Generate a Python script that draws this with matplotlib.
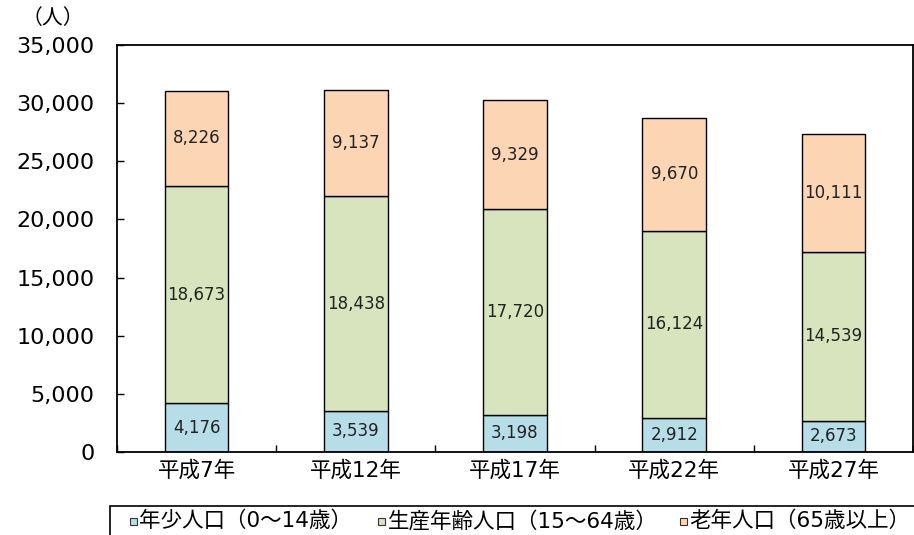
import matplotlib
matplotlib.use("Agg")
import matplotlib.pyplot as plt
from matplotlib.patches import Rectangle
from matplotlib.ticker import FuncFormatter, MultipleLocator
import numpy as np

plt.rcParams['font.family'] = ['DejaVu Sans', 'Noto Sans CJK JP']

categories = ["平成7年", "平成12年", "平成17年", "平成22年", "平成27年"]
young = [4176, 3539, 3198, 2912, 2673]
working = [18673, 18438, 17720, 16124, 14539]
old = [8226, 9137, 9329, 9670, 10111]
series_names = ["年少人口（0〜14歳）", "生産年齢人口（15〜64歳）", "老年人口（65歳以上）"]
colors = ["#B7DEE8", "#D7E4BD", "#FCD5B5"]

W, H = 914, 535
fig = plt.figure(figsize=(W/100, H/100), dpi=100)
ax = fig.add_axes([117/W, 1-452/H, (913-117)/W, (452-45)/H])

x = np.arange(len(categories))
w = 0.4
bottom = np.zeros(len(categories))
for vals, c in zip([young, working, old], colors):
    vals = np.array(vals)
    ax.bar(x, vals, w, bottom=bottom, color=c, edgecolor='black', linewidth=1.0, zorder=2)
    for xi, b, v in zip(x, bottom, vals):
        ax.text(xi, b + v/2, f"{v:,}", ha='center', va='center', fontsize=12, color='#222222')
    bottom += vals

ax.set_xlim(-0.5, len(categories)-0.5)
ax.set_ylim(0, 35000)
ax.yaxis.set_major_locator(MultipleLocator(5000))
ax.yaxis.set_major_formatter(FuncFormatter(lambda v, p: f"{int(v):,}"))
ax.set_xticks(x)
ax.set_xticklabels(categories, fontsize=15.5)
ax.set_xticks(np.arange(-0.5, len(categories)), minor=True)
ax.tick_params(axis='x', which='major', length=0, pad=6)
ax.tick_params(axis='x', which='minor', direction='in', length=5, width=1)
ax.tick_params(axis='y', direction='in', length=5, width=1, labelsize=16, pad=16)
for s in ax.spines.values():
    s.set_linewidth(1.3)
    s.set_color('black')

fig.text(53/W, 1-18/H, "（人）", ha='center', va='center', fontsize=15)

# legend drawn as a framed strip at the bottom
fig.patches.append(Rectangle((110/W, -20/H), 830/W, (H-506+20)/H, transform=fig.transFigure,
                             facecolor='white', edgecolor='black', linewidth=1.2, clip_on=False))
marker_x = [130, 378, 680]
text_x = [139, 388, 689]
ly = 521
for mx, tx, name, c in zip(marker_x, text_x, series_names, colors):
    fig.patches.append(Rectangle((mx/W, (H-ly-3.5)/H), 7/W, 7/H, transform=fig.transFigure,
                                 facecolor=c, edgecolor='#333333', linewidth=0.8))
    fig.text(tx/W, 1-ly/H, name, ha='left', va='center', fontsize=15.5)

fig.savefig("out.png", dpi=100)
